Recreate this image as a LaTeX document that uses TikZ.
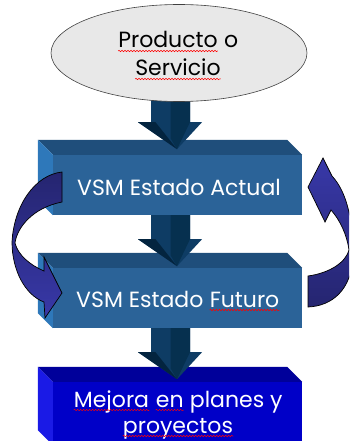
\documentclass[tikz,border=0pt]{standalone}
\usepackage{fontspec}
\setmainfont{Poppins}
\usetikzlibrary{shapes.geometric,calc,decorations.pathmorphing}
\newcommand\redwave[1]{\tikz[baseline=(w.base)]{\node[inner sep=0pt, anchor=base] (w) at (0,0) {#1}; \draw[red, line width=0.5pt, decorate, decoration={snake,amplitude=0.7pt,segment length=3pt}] ([yshift=-3pt]w.base west) -- ([yshift=-3pt]w.base east);}}
\definecolor{bfront}{HTML}{2B6398}
\definecolor{btop}{HTML}{1F4E7B}
\definecolor{bleft}{HTML}{2E78BA}
\definecolor{cfront}{HTML}{0000C8}
\definecolor{ctop}{HTML}{00009A}
\definecolor{cleft}{HTML}{1A1AE6}
\definecolor{arrA}{HTML}{0E3C64}
\definecolor{arrB}{HTML}{06304F}
\definecolor{arrC}{HTML}{03243F}
\definecolor{indA}{HTML}{252570}
\definecolor{indB}{HTML}{3838A8}
\definecolor{ellfill}{HTML}{E8E8E8}
\tikzset{
  front/.style={rectangle, inner sep=0pt, minimum width=249pt},
  lbl/.style={anchor=base, text=white, font=\fontsize{22}{28}\selectfont, align=center, inner sep=0pt},
  barrow/.pic={
    \fill[arrA] (-19.5,0) -- (19.5,0) -- (19.5,24) -- (31.5,24) -- (6.5,51) -- (-32.5,24) -- (-19.5,24) -- cycle;
    \fill[arrB] (0,0) -- (19.5,0) -- (19.5,24) -- (6.5,51) -- (0,40) -- cycle;
    \fill[arrC] (-32.5,24) -- (-15,24) -- (6.5,51) -- cycle;
  },
  curved/.style={draw=black, line width=0.7pt}
}
\begin{document}
\begin{tikzpicture}[x=1pt,y=-1pt]
\useasboundingbox (0,0) rectangle (349,441);
\clip (0,0) rectangle (349,441);
% boxes
\node[front, fill=bfront, minimum height=60pt] (b1) at (177.5,185) {};
\node[front, fill=bfront, minimum height=60pt] (b2) at (177.5,298) {};
\node[front, fill=cfront, minimum height=63pt] (b3) at (177.5,413.5) {};
\foreach \b/\t/\l in {b1/btop/bleft, b2/btop/bleft, b3/ctop/cleft}{
  \fill[\t] ($(\b.north west)+(-15,-15)$) -- ($(\b.north east)+(-15,-15)$) -- (\b.north east) -- (\b.north west) -- cycle;
  \fill[\l] ($(\b.north west)+(-15,-15)$) -- (\b.north west) -- (\b.south west) -- ($(\b.south west)+(-15,-15)$) -- cycle;
}
% block arrows
\pic at ($(b1.south)+(-7,-117)$) {barrow};
\pic at ($(b1.south)+(-7,0)$) {barrow};
\pic at ($(b2.south)+(-7,0)$) {barrow};
% ellipse
\node[ellipse, draw=black!75, line width=0.6pt, fill=ellfill, minimum width=256pt, minimum height=97pt] (prod) at (179,53) {};
\node[lbl, text=black] (tp1) at (178,48) {\redwave{Producto} o};
\node[lbl, text=black] (tp2) at (178,76) {\redwave{Servicio}};
% labels
\node[lbl] (t1) at (179,195) {VSM Estado Actual};
\node[lbl] (t2) at (178,307) {VSM Estado \redwave{Futuro}};
\node[lbl] (t3a) at (178,407) {\redwave{Mejora} \redwave{en} planes y};
\node[lbl] (t3b) at (178,433) {\redwave{proyectos}};
% curved arrows
\path[curved, top color=indA, bottom color=indB]
  (62,172) .. controls (35,175) and (14,205) .. (12,242)
  .. controls (12,270) and (25,295) .. (44,302)
  -- (45,318) -- (62,293) -- (44,257) -- (44,271)
  .. controls (30,265) and (18,255) .. (15,243)
  .. controls (17,228) and (32,208) .. (62,202) -- cycle;
\path[curved, top color=indB, bottom color=indA]
  (308,307) .. controls (332,306) and (352,290) .. (353,255)
  .. controls (353,215) and (345,190) .. (332,176)
  -- (323,158) -- (308,187) -- (325,222) -- (331,210)
  .. controls (340,220) and (347,235) .. (349,250)
  .. controls (346,262) and (330,273) .. (308,276) -- cycle;
\end{tikzpicture}
\end{document}
